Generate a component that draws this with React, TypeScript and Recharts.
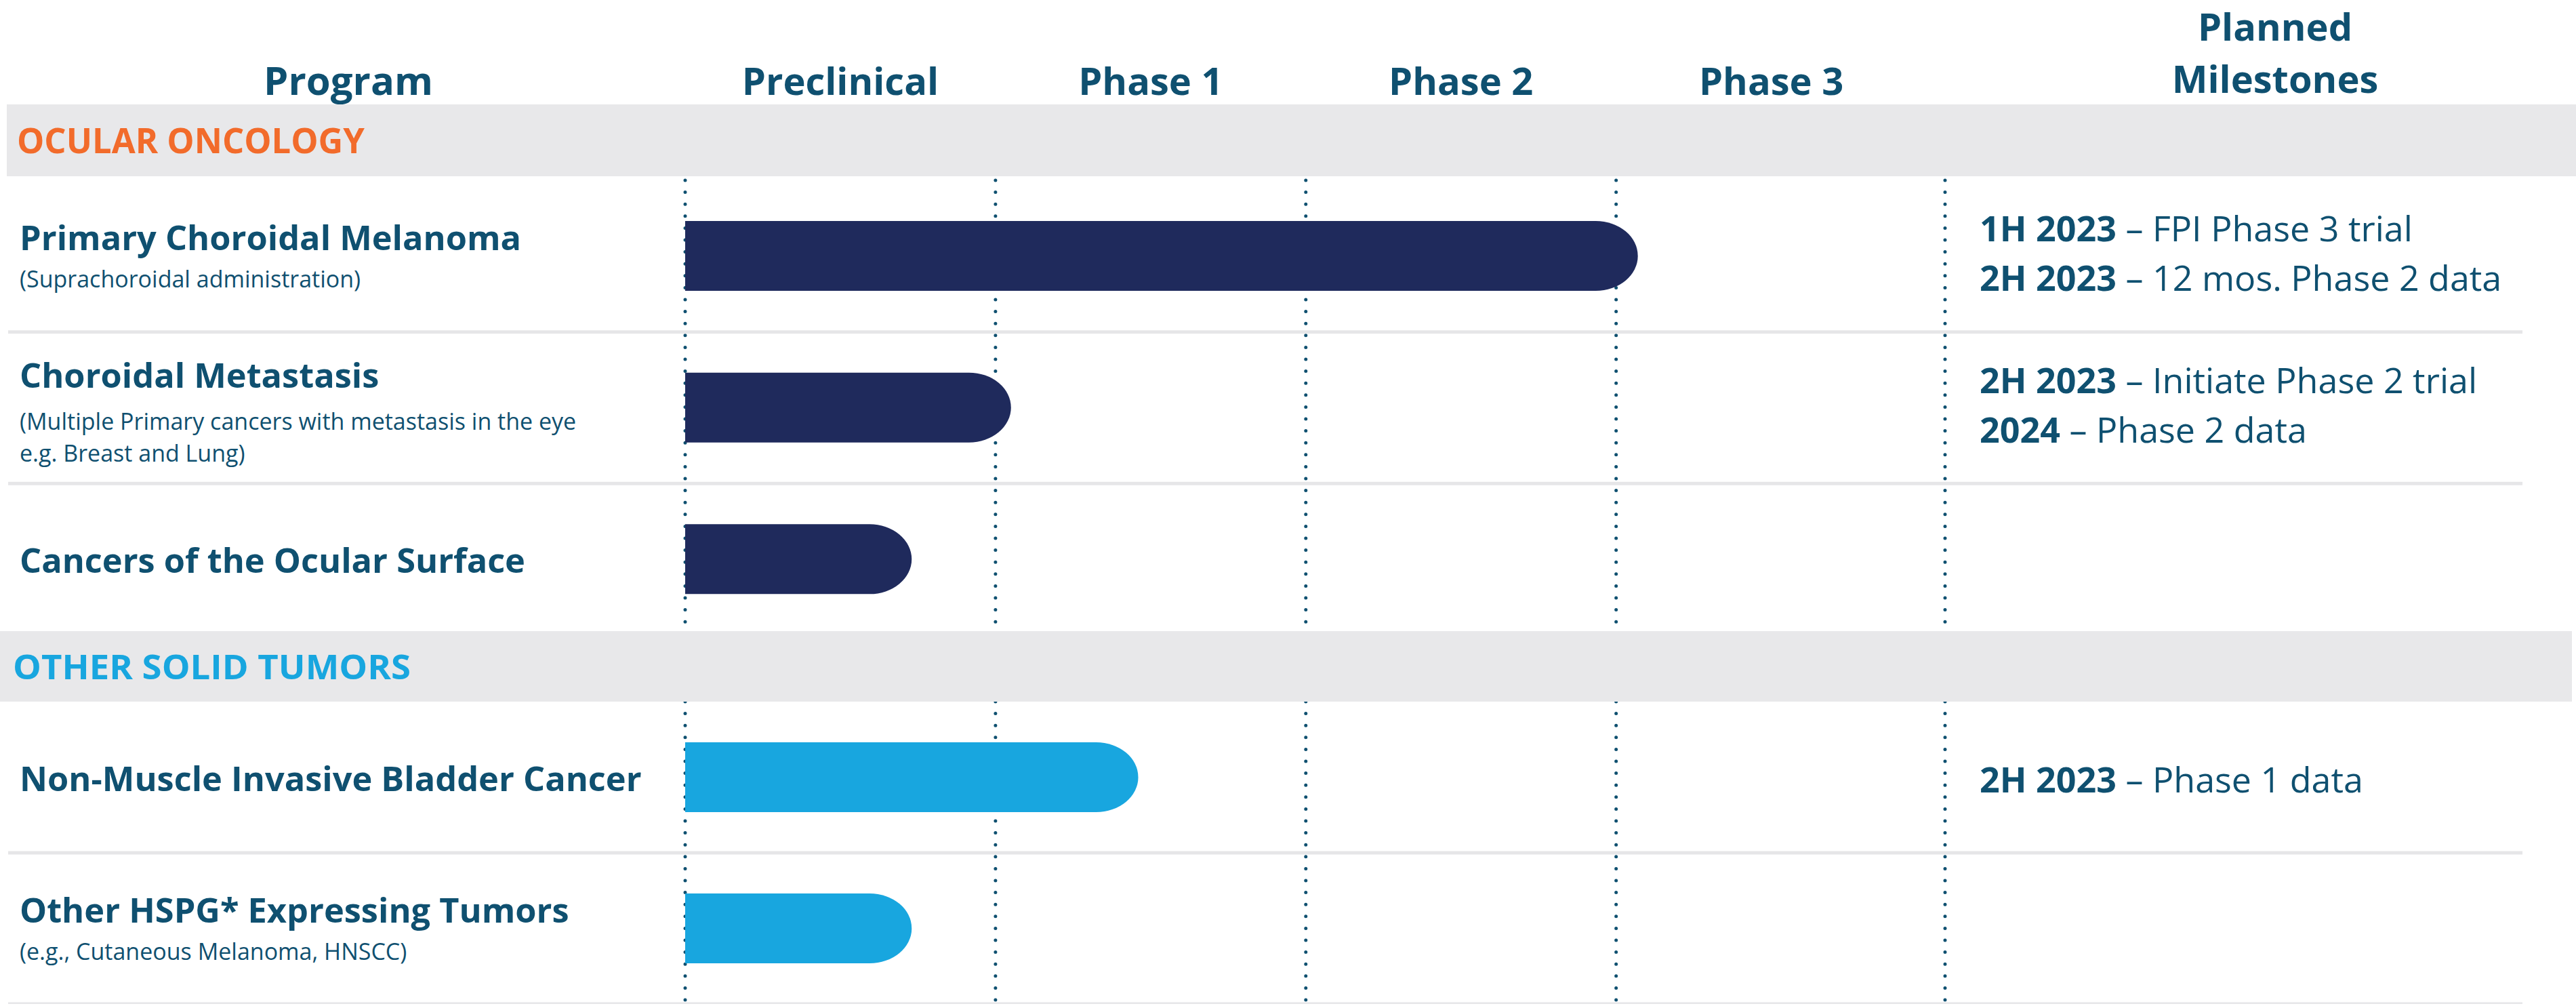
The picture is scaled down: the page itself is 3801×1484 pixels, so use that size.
import React from "react";
import { BarChart, Bar, XAxis, YAxis, CartesianGrid } from "recharts";

// column headers and the phase grid (x in phase units, 0 = start of preclinical)
const PHASES = ["Preclinical", "Phase 1", "Phase 2", "Phase 3"];
const PHASE_EDGES = [0, 1, 2, 3, 4.06];
const X_MAX = 4.06;

const OCULAR_TITLE = "OCULAR ONCOLOGY";
const OCULAR_PROGRAMS = [
  "Primary Choroidal Melanoma",
  "Choroidal Metastasis",
  "Cancers of the Ocular Surface",
];
const OCULAR_NOTES = [
  ["(Suprachoroidal administration)"],
  ["(Multiple Primary cancers with metastasis in the eye", "e.g. Breast and Lung)"],
  [],
];
const OCULAR_PROGRESS = [3.07, 1.05, 0.73];
const OCULAR_MILESTONES = [
  [
    ["1H 2023", "FPI Phase 3 trial"],
    ["2H 2023", "12 mos. Phase 2 data"],
  ],
  [
    ["2H 2023", "Initiate Phase 2 trial"],
    ["2024", "Phase 2 data"],
  ],
  [],
];

const SOLID_TITLE = "OTHER SOLID TUMORS";
const SOLID_PROGRAMS = [
  "Non-Muscle Invasive Bladder Cancer",
  "Other HSPG* Expressing Tumors",
];
const SOLID_NOTES = [[], ["(e.g., Cutaneous Melanoma, HNSCC)"]];
const SOLID_PROGRESS = [1.46, 0.73];
const SOLID_MILESTONES = [[["2H 2023", "Phase 1 data"]], []];

const TEXT = "#0F5070";
const NAVY = "#1F2A5C";
const SKY = "#18A6DF";
const ORANGE = "#F26B2B";
const BAND = "#E8E8EA";
const RULE = "#E6E6E8";
const FONT = "'Open Sans', 'Noto Sans', sans-serif";

const W = 3801;
const H = 1484;
const AXIS_W = 1011;
const MILESTONE_W = 931;
const PHASE_PX = (W - AXIS_W - MILESTONE_W) / X_MAX;
const CAP_DEPTH = 62;

interface Row {
  program: string;
  progress: number;
  notes: string[];
  milestones: string[][];
}

function buildRows(programs: string[], progress: number[], notes: string[][], milestones: string[][][]): Row[] {
  return programs.map((program, i) => ({
    program,
    progress: progress[i],
    notes: notes[i],
    milestones: milestones[i],
  }));
}

const ocularRows = buildRows(OCULAR_PROGRAMS, OCULAR_PROGRESS, OCULAR_NOTES, OCULAR_MILESTONES);
const solidRows = buildRows(SOLID_PROGRAMS, SOLID_PROGRESS, SOLID_NOTES, SOLID_MILESTONES);

function CapBar(props: any) {
  const { x, y, width, height, fill } = props;
  if (!width || width <= 0) return null;
  const rx = Math.min(CAP_DEPTH, width);
  const xs = x + width - rx;
  return (
    <path
      d={`M${x},${y} H${xs} A${rx},${height / 2} 0 0 1 ${xs},${y + height} H${x} Z`}
      fill={fill}
    />
  );
}

// ticks sit on the phase edges; each label is centred in the column to its right
function PhaseTick(props: any) {
  const { x, payload } = props;
  const label = PHASES[PHASE_EDGES.indexOf(Number(payload.value))];
  if (!label) return null;
  return (
    <text x={x + PHASE_PX / 2} y={140} textAnchor="middle" fill={TEXT} fontFamily={FONT} fontWeight={700} fontSize={56}>
      {label}
    </text>
  );
}

function ProgramTick(props: any) {
  const { y, payload, rows, rowH, ruleLast } = props;
  const idx = rows.findIndex((r: Row) => r.program === payload.value);
  const row: Row = rows[idx];
  if (!row) return null;
  const n = row.notes.length;
  const main = y + 20 - n * 29 + Math.max(0, n - 1) * 8;
  const gap = 55 + Math.max(0, n - 1) * 7;
  const showRule = ruleLast || idx < rows.length - 1;
  return (
    <g>
      <text x={29} y={main} fill={TEXT} fontFamily={FONT} fontWeight={700} fontSize={50.5}>
        {row.program}
      </text>
      {row.notes.map((note, i) => (
        <text key={i} x={29} y={main + gap + i * 47} fill={TEXT} fontFamily={FONT} fontSize={34}>
          {note}
        </text>
      ))}
      {showRule && <line x1={12} x2={3722} y1={y + rowH / 2} y2={y + rowH / 2} stroke={RULE} strokeWidth={5} />}
    </g>
  );
}

function MilestoneTick(props: any) {
  const { y, payload, rows } = props;
  const row: Row | undefined = rows.find((r: Row) => r.program === payload.value);
  if (!row) return null;
  const m = row.milestones.length;
  return (
    <g>
      {row.milestones.map(([when, what], i) => (
        <text key={i} x={2921} y={y + 22 - (m - 1) * 44 + i * 73} fill={TEXT} fontFamily={FONT} fontSize={52}>
          <tspan fontWeight={700}>{when}</tspan>
          <tspan> – {what}</tspan>
        </text>
      ))}
    </g>
  );
}

interface SectionProps {
  rows: Row[];
  top: number;
  height: number;
  headerH: number;
  fill: string;
  ruleLast: boolean;
}

function Section({ rows, top, height, headerH, fill, ruleLast }: SectionProps) {
  const rowH = (height - headerH) / rows.length;
  const hasHeader = headerH > 0;
  return (
    <div style={{ position: "absolute", left: 0, top }}>
      <BarChart
        width={W}
        height={height}
        data={rows}
        layout="vertical"
        margin={{ top: 0, right: 0, bottom: 0, left: 0 }}
      >
        <CartesianGrid
          horizontal={false}
          stroke={TEXT}
          strokeWidth={5}
          strokeDasharray="0 17.6"
          strokeLinecap="round"
        />
        <XAxis
          type="number"
          orientation="top"
          domain={[0, X_MAX]}
          ticks={PHASE_EDGES}
          interval={0}
          hide={!hasHeader}
          height={hasHeader ? headerH : 0}
          axisLine={false}
          tickLine={false}
          tick={<PhaseTick />}
        />
        <YAxis
          type="category"
          dataKey="program"
          width={AXIS_W}
          axisLine={false}
          tickLine={false}
          interval={0}
          tick={<ProgramTick rows={rows} rowH={rowH} ruleLast={ruleLast} />}
        />
        <YAxis
          yAxisId="milestone"
          orientation="right"
          type="category"
          dataKey="program"
          width={MILESTONE_W}
          axisLine={false}
          tickLine={false}
          interval={0}
          tick={<MilestoneTick rows={rows} />}
        />
        <Bar
          dataKey="progress"
          fill={fill}
          barSize={103}
          shape={(p: any) => <CapBar {...p} />}
          isAnimationActive={false}
        />
      </BarChart>
    </div>
  );
}

export default function App() {
  return (
    <div style={{ position: "absolute", left: 0, top: 0, width: W, height: H, background: "#fff", overflow: "hidden" }}>
      <Section rows={ocularRows} top={0} height={937} headerH={266} fill={NAVY} ruleLast={false} />
      <Section rows={solidRows} top={1035} height={446} headerH={0} fill={SKY} ruleLast={true} />
      <svg width={W} height={H} style={{ position: "absolute", left: 0, top: 0, pointerEvents: "none" }}>
        <text x={514} y={140} textAnchor="middle" fill={TEXT} fontFamily={FONT} fontWeight={700} fontSize={58}>
          Program
        </text>
        <text x={3357} y={60} textAnchor="middle" fill={TEXT} fontFamily={FONT} fontWeight={700} fontSize={56}>
          Planned
        </text>
        <text x={3357} y={137} textAnchor="middle" fill={TEXT} fontFamily={FONT} fontWeight={700} fontSize={56}>
          Milestones
        </text>
        <rect x={10} y={154} width={W - 10} height={106} fill={BAND} />
        <text x={25} y={226} fill={ORANGE} fontFamily={FONT} fontWeight={700} fontSize={52} textLength={513} lengthAdjust="spacingAndGlyphs">
          {OCULAR_TITLE}
        </text>
        <rect x={0} y={931} width={W - 6} height={104} fill={BAND} />
        <text x={19} y={1002} fill={SKY} fontFamily={FONT} fontWeight={700} fontSize={51} textLength={587} lengthAdjust="spacingAndGlyphs">
          {SOLID_TITLE}
        </text>
      </svg>
    </div>
  );
}
